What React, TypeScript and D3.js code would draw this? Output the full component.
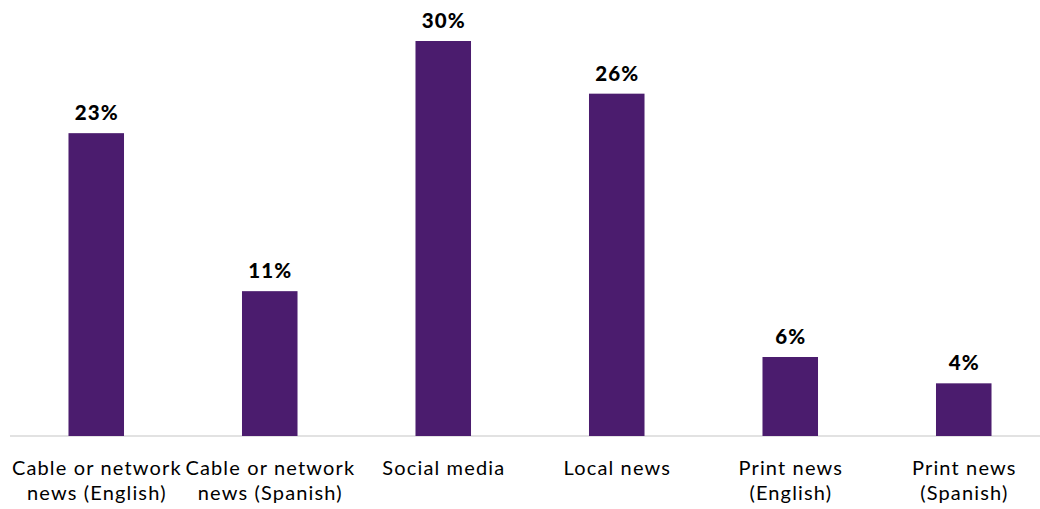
import React from "react";
import * as d3 from "d3";

const categories: string[][] = [
  ["Cable or network", "news (English)"],
  ["Cable or network", "news (Spanish)"],
  ["Social media"],
  ["Local news"],
  ["Print news", "(English)"],
  ["Print news", "(Spanish)"],
];
const values: number[] = [23, 11, 30, 26, 6, 4];

const W = 1040;
const H = 509;
const baseY = 436;
const FONT = "Lato, 'Open Sans', sans-serif";
const LS_CAT = 1.15;
const LS_VAL = 1.1;

export default function App() {
  const keys = categories.map((c) => c.join(" "));
  const x = d3.scaleBand<string>().domain(keys).range([9.5, 1050.5]).paddingInner(0.68).paddingOuter(0.34);
  const y = d3.scaleLinear().domain([0, 30]).range([baseY, 41]);
  return (
    <svg width={W} height={H} style={{ position: "absolute", left: 0, top: 0, display: "block" }}>
      <line x1={10} x2={W} y1={baseY} y2={baseY} stroke="#d9d9d9" strokeWidth={1.5} />
      {values.map((v, i) => {
        const k = keys[i];
        const bx = x(k)!;
        const cx = bx + x.bandwidth() / 2;
        return (
          <g key={k}>
            <rect x={bx} y={y(v)} width={x.bandwidth()} height={baseY - y(v)} fill="#4b1c6e" />
            <text
              x={cx + LS_VAL / 2}
              y={y(v) - 13}
              textAnchor="middle"
              fontFamily={FONT}
              fontWeight={900}
              fontSize={20.5}
              letterSpacing={LS_VAL}
              fill="#000"
            >
              {v}%
            </text>
            {categories[i].map((line, j) => (
              <text
                key={j}
                x={cx + LS_CAT / 2}
                y={475 + j * 25}
                textAnchor="middle"
                fontFamily={FONT}
                fontSize={20}
                letterSpacing={LS_CAT}
                fill="#000"
              >
                {line}
              </text>
            ))}
          </g>
        );
      })}
    </svg>
  );
}
